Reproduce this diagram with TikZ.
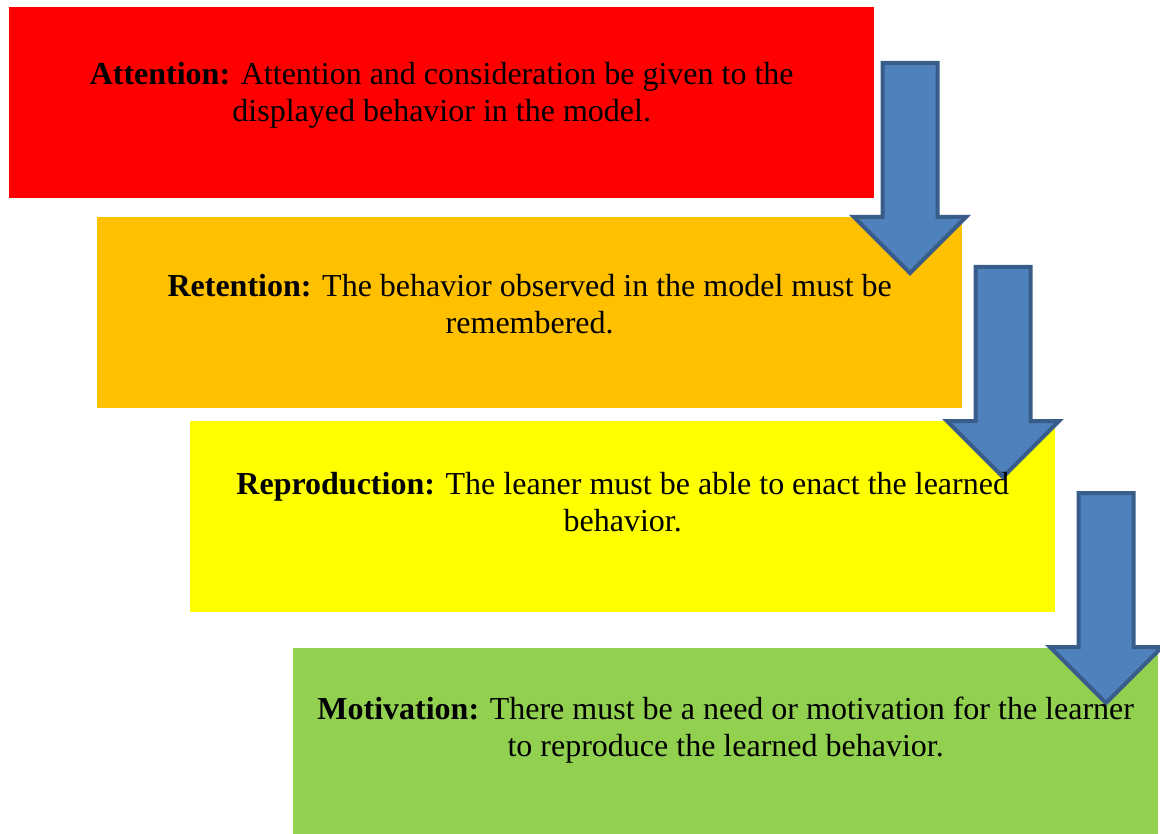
\documentclass[tikz,border=0pt]{standalone}
\usepackage{fontspec}
\setmainfont{Liberation Serif}
\usetikzlibrary{positioning}
\definecolor{cattn}{HTML}{FF0000}
\definecolor{cret}{HTML}{FFC000}
\definecolor{crep}{HTML}{FFFF00}
\definecolor{cmot}{HTML}{92D050}
\definecolor{cflow}{HTML}{4F81BD}
\definecolor{cflowline}{HTML}{385D8A}

\begin{document}
\begin{tikzpicture}[
  x=1pt, y=-1pt,
  font=\fontsize{32}{37}\selectfont,
  stage/.style={anchor=north west, inner sep=0pt, minimum width=865pt,
                minimum height=191pt},
  stagetext/.style={align=center, inner sep=0pt},
  flow/.pic={
    \draw[fill=cflow, draw=cflowline, line width=4pt, miter limit=4]
      (-27.5,0) -- (27.5,0) -- (27.5,154) -- (56,154) -- (0,210)
      -- (-56,154) -- (-27.5,154) -- cycle;
  },
  ]
\useasboundingbox (0,0) rectangle (1160,834);
% ---- the four stages, stepping down to the right
\node[stage, fill=cattn] (attn) at (9,7)    {};
\node[stage, fill=cret]  (ret)  at (97,217)  {};
\node[stage, fill=crep]  (rep)  at (190,421) {};
\node[stage, fill=cmot, minimum height=192pt] (mot) at (293,648) {};
% ---- block arrows between the stages
\pic at (910,63)   {flow};
\pic at (1003,267) {flow};
\pic at (1106,493) {flow};
% ---- texts
\node[stagetext, below=55pt of attn.north] (attntext)
  {\textbf{Attention:} Attention and consideration be given to the\\
   displayed behavior in the model.};
\node[stagetext, below=57pt of ret.north] (rettext)
  {\textbf{Retention:} The behavior observed in the model must be\\
   remembered.};
\node[stagetext, below=51pt of rep.north] (reptext)
  {\textbf{Reproduction:} The leaner must be able to enact the learned\\
   behavior.};
\node[stagetext, below=49pt of mot.north] (mottext)
  {\textbf{Motivation:} There must be a need or motivation for the learner\\
   to reproduce the learned behavior.};
\end{tikzpicture}
\end{document}
